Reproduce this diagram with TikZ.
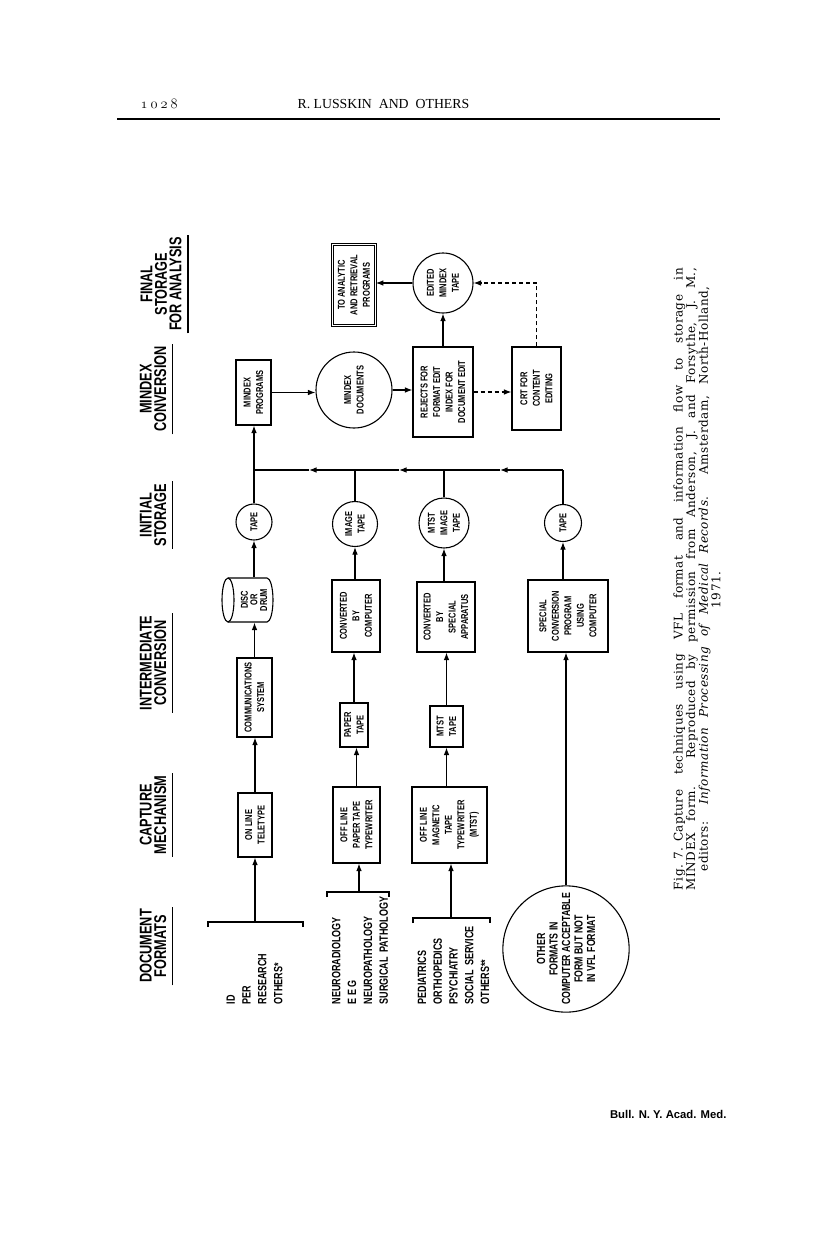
\documentclass[tikz,border=0pt]{standalone}
\usepackage{fontspec}
\setmainfont{Liberation Serif}
\newfontfamily\cond[FakeStretch=0.75]{Liberation Sans}
\newfontfamily\capfont[LetterSpace=4]{DejaVu Serif}
\newfontfamily\footfont{Liberation Sans}
\usetikzlibrary{arrows.meta,calc}
\newcommand{\bxf}{\cond\bfseries\fontsize{10}{12.5}\selectfont}
\newcommand{\hdf}{\cond\bfseries\fontsize{17}{14.5}\selectfont}
\newcommand{\lsf}{\cond\bfseries\fontsize{12}{15.8}\selectfont}
\begin{document}
\begin{tikzpicture}[x=1pt,y=-1pt,line width=1.1pt,
  arr/.style={-{Latex[length=7.5pt,width=5.6pt]}},
  dsh/.style={dash pattern=on 4pt off 3pt},
  sz/.style 2 args={minimum height=#1pt,minimum width=#2pt},
  box/.style={draw,rectangle,rotate=90,inner sep=0pt,align=center,font=\bxf},
  circ/.style={draw,circle,rotate=90,inner sep=0pt,align=center,font=\bxf,minimum size=#1pt},
  txt/.style={rotate=90,inner sep=0pt,align=center,font=\bxf},
  head/.style={rotate=90,inner sep=0pt,align=center,font=\hdf},
  lst/.style={rotate=90,inner sep=0pt,align=left,font=\lsf,anchor=west}
]
\useasboundingbox (0,0) rectangle (816,1247);
\fill[white] (0,0) rectangle (816,1247);

% ---------- running head ----------
\node[anchor=base west,inner sep=0pt,font=\fontsize{14}{16}\selectfont] (pgno) at (140,108) {\usefont{OML}{cmm}{m}{it}1\kern3pt0\kern3pt2\kern3pt8};
\node[anchor=base west,inner sep=0pt,font=\fontsize{13.8}{16}\selectfont] (runhead) at (297,108) {R. LUSSKIN\ \ AND\ \ OTHERS};
\draw[line width=1.6pt] (117,119) -- (720,119);

% ---------- column headings ----------
\node[head] (hdoc) at (153,946) {DOCUMENT\\FORMATS};
\node[head] (hcap) at (153,815) {CAPTURE\\MECHANISM};
\node[head] (hint) at (153,663) {INTERMEDIATE\\CONVERSION};
\node[head] (hini) at (153,515) {INITIAL\\STORAGE};
\node[head] (hmin) at (153,389) {MINDEX\\CONVERSION};
\node[head] (hfin) at (161,284) {FINAL\\STORAGE\\FOR ANALYSIS};
\foreach \h in {hdoc,hcap,hint,hini,hmin,hfin}
  \draw ($(\h.south west)+(6,2)$) -- ($(\h.south east)+(6,-2)$);

% ---------- document format lists ----------
\node[lst] (l1) at (254.5,1005) {ID\\PER\\RESEARCH\\OTHERS*};
\node[lst] (l2) at (360,1005) {NEURORADIOLOGY\\E E G\\NEUROPATHOLOGY\\SURGICAL\ \ PATHOLOGY};
\node[lst] (l3) at (453.5,1005) {PEDIATRICS\\ORTHOPEDICS\\PSYCHIATRY\\SOCIAL\ \ SERVICE\\OTHERS**};
\node[draw,circle,rotate=90,inner sep=0pt,align=center,font=\cond\bfseries\fontsize{11.7}{12.5}\selectfont,minimum size=126pt] (other) at (566,949) {OTHER\\FORMATS IN\\COMPUTER ACCEPTABLE\\FORM BUT NOT\\IN VFL FORMAT};

% brackets
\coordinate (b1) at (255,922);
\coordinate (b2) at (359,892);
\coordinate (b3) at (451,918);
\draw (208,927) -- (208,922) -- (303,922) -- (303,927);
\draw (327,897) -- (327,892) -- (389,892) -- (389,897);
\draw (413,923) -- (413,918) -- (490,918) -- (490,923);

% ---------- row 1 ----------
\node[box,sz={34}{64}] (online) at (255,825) {ON LINE\\TELETYPE};
\node[box,sz={35}{79}] (comm) at (254.5,697.5) {COMMUNICATIONS\\SYSTEM};
\node[txt,font=\cond\bfseries\fontsize{10}{9.6}\selectfont,minimum width=44pt,minimum height=44pt] (disc) at (254,600) {DISC\\OR\\DRUM};
\draw (228,600) ellipse[x radius=6,y radius=22];
\draw (228,578) -- (267,578) arc[start angle=-90,end angle=90,x radius=6,y radius=22] -- (228,622);
\node[circ=36] (tape1) at (254,522) {TAPE};
\node[box,sz={35}{65}] (mprog) at (253.5,392.5) {MINDEX\\PROGRAMS};

% ---------- row 2 ----------
\node[box,sz={47}{76}] (offpaper) at (356.5,825) {OFF LINE\\PAPER TAPE\\TYPEWRITER};
\node[box,sz={28}{44}] (papertape) at (354,725) {PAPER\\TAPE};
\node[box,sz={48}{72}] (convcomp) at (356,616) {CONVERTED\\BY\\COMPUTER};
\node[circ=45] (imgtape) at (355,524) {IMAGE\\TAPE};
\node[circ=76] (mdocs) at (354,390) {MINDEX\\DOCUMENTS};
\node[box,sz={43}{81},double,double distance=1.6pt,line width=0.8pt] (analytic) at (354,285) {TO ANALYTIC\\AND RETRIEVAL\\PROGRAMS};

% ---------- row 3 ----------
\node[box,sz={75}{76}] (offmag) at (449.5,825) {OFF LINE\\MAGNETIC\\TAPE\\TYPEWRITER\\(MTST)};
\node[box,sz={33}{41}] (mtsttape) at (446.5,726.5) {MTST\\TAPE};
\node[box,sz={58}{70}] (convspec) at (446,617) {CONVERTED\\BY\\SPECIAL\\APPARATUS};
\node[circ=50] (mtstimg) at (444,523) {MTST\\IMAGE\\TAPE};
\node[box,sz={60}{90}] (rejects) at (443,392) {REJECTS FOR\\FORMAT EDIT\\INDEX FOR\\DOCUMENT EDIT};
\node[circ=60] (edited) at (443,283) {EDITED\\MINDEX\\TAPE};

% ---------- row 4 ----------
\node[box,sz={80}{72}] (specconv) at (568,616) {SPECIAL\\CONVERSION\\PROGRAM\\USING\\COMPUTER};
\node[circ=37] (tape4) at (563,523) {TAPE};
\node[box,sz={49}{83}] (crt) at (536.5,388.5) {CRT FOR\\CONTENT\\EDITING};

% ---------- connectors ----------
\draw[arr] (b1) -- (b1 |- online.west);
\draw[arr] (online.east) -- (online.east |- comm.west);
\draw[arr] (comm.east) -- (comm.east |- disc.west);
\draw[arr] (disc.east -| tape1.west) -- (tape1.west);
\draw[arr] (tape1.east) -- (tape1.east |- mprog.west);

\draw[arr] (b2) -- (b2 |- offpaper.west);
\draw[arr] (offpaper.east) -- (offpaper.east |- papertape.west);
\draw[arr] (papertape.east) -- (papertape.east |- convcomp.west);
\draw[arr] (convcomp.east -| imgtape.west) -- (imgtape.west);

\draw[arr] (b3) -- (b3 |- offmag.west);
\draw[arr] (offmag.east -| mtsttape.west) -- (mtsttape.west);
\draw[arr] (mtsttape.east) -- (mtsttape.east |- convspec.west);
\draw[arr] (convspec.east -| mtstimg.west) -- (mtstimg.west);

\draw[arr] (other.east) -- (other.east |- specconv.west);
\draw[arr] (specconv.east -| tape4.west) -- (tape4.west);

\coordinate (j1) at (254,470);
\coordinate (j2) at (355,470);
\coordinate (j3) at (444,470);
\coordinate (j4) at (563,470);
\coordinate (m3) at (500,470);
\coordinate (m2) at (399,470);
\coordinate (m1) at (309,470);
\draw (tape4.east) -- (j4);
\draw (mtstimg.east) -- (j3);
\draw (imgtape.east) -- (j2);
\draw[arr] (j4) -- (m3);
\draw (m3) -- (j3);
\draw[arr] (j3) -- (m2);
\draw (m2) -- (j2);
\draw[arr] (j2) -- (m1);
\draw (m1) -- (j1);

\draw[arr] (mprog.south) -- (mprog.south -| mdocs.north);
\draw[arr] (mdocs.south) -- (mdocs.south -| rejects.north);
\draw[arr,dsh] (rejects.south) -- (rejects.south -| crt.north);
\draw[arr] (rejects.east) -- (rejects.east |- edited.west);
\draw[arr,dsh] (crt.east) |- (edited.south);
\draw[arr] (edited.north) -- (edited.north -| analytic.south);

% ---------- caption ----------
\node[rotate=90,inner sep=0pt,align=center,font=\capfont\fontsize{12}{12.6}\selectfont] (caption) at (697,579)
 {\makebox[622pt][s]{Fig.\kern5pt7.\kern6pt Capture techniques using VFL format and information flow to storage in}\\
  \makebox[622pt][s]{MINDEX form. Reproduced by permission from Anderson, J. and Forsythe, J. M.,}\\
  \makebox[585pt][s]{editors: \textit{Information Processing of Medical Records}. Amsterdam, North-Holland,}\\
  1971.\hspace*{22pt}};

% ---------- footer ----------
\node[anchor=base east,inner sep=0pt,font=\footfont\bfseries\fontsize{11.3}{13}\selectfont] (foot) at (727,1118) {Bull. N. Y. Acad. Med.};
\end{tikzpicture}
\end{document}
